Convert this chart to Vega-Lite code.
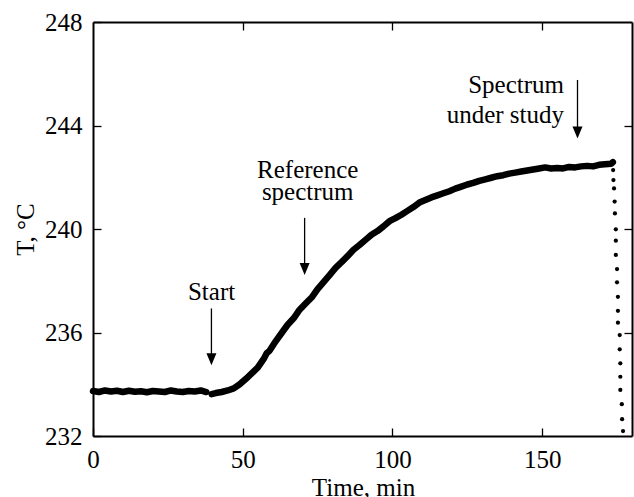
{
  "$schema": "https://vega.github.io/schema/vega-lite/v6.json",
  "width": 539,
  "height": 414,
  "autosize": {"type": "none"},
  "padding": {"left": 93, "top": 22, "right": 2, "bottom": 61},
  "background": "white",
  "config": {
    "view": {"stroke": null},
    "font": "Liberation Serif",
    "axis": {
      "grid": false,
      "domainColor": "black",
      "domainWidth": 2,
      "tickColor": "black",
      "tickWidth": 1.3,
      "tickSize": -8,
      "labelFont": "Liberation Serif",
      "labelFontSize": 25,
      "labelColor": "black",
      "labelFlush": false,
      "labelOverlap": false,
      "titleFont": "Liberation Serif",
      "titleFontSize": 25,
      "titleFontWeight": "normal",
      "titleColor": "black"
    }
  },
  "datasets": {
    "curve": [
      {"t": 0, "T": 233.74, "s": "a"}, {"t": 2, "T": 233.70, "s": "a"}, {"t": 4, "T": 233.76, "s": "a"},
      {"t": 6, "T": 233.72, "s": "a"}, {"t": 8, "T": 233.75, "s": "a"}, {"t": 10, "T": 233.70, "s": "a"},
      {"t": 12, "T": 233.75, "s": "a"}, {"t": 14, "T": 233.71, "s": "a"}, {"t": 16, "T": 233.73, "s": "a"},
      {"t": 18, "T": 233.69, "s": "a"}, {"t": 20, "T": 233.74, "s": "a"}, {"t": 22, "T": 233.72, "s": "a"},
      {"t": 24, "T": 233.70, "s": "a"}, {"t": 26, "T": 233.76, "s": "a"}, {"t": 28, "T": 233.72, "s": "a"},
      {"t": 30, "T": 233.70, "s": "a"}, {"t": 32, "T": 233.74, "s": "a"}, {"t": 34, "T": 233.72, "s": "a"},
      {"t": 36, "T": 233.76, "s": "a"}, {"t": 37.8, "T": 233.70, "s": "a"},
      {"t": 39.6, "T": 233.62, "s": "b"}, {"t": 41, "T": 233.66, "s": "b"}, {"t": 43, "T": 233.70, "s": "b"},
      {"t": 45, "T": 233.76, "s": "b"}, {"t": 47, "T": 233.84, "s": "b"}, {"t": 49, "T": 234.00, "s": "b"},
      {"t": 51, "T": 234.20, "s": "b"}, {"t": 53, "T": 234.42, "s": "b"}, {"t": 55, "T": 234.64, "s": "b"},
      {"t": 57, "T": 234.98, "s": "b"}, {"t": 58, "T": 235.20, "s": "b"}, {"t": 59, "T": 235.30, "s": "b"},
      {"t": 61, "T": 235.66, "s": "b"},
      {"t": 63, "T": 235.98, "s": "b"}, {"t": 65, "T": 236.30, "s": "b"}, {"t": 67, "T": 236.55, "s": "b"},
      {"t": 69, "T": 236.88, "s": "b"}, {"t": 71, "T": 237.12, "s": "b"}, {"t": 73, "T": 237.35, "s": "b"},
      {"t": 75, "T": 237.68, "s": "b"}, {"t": 77, "T": 237.95, "s": "b"}, {"t": 79, "T": 238.22, "s": "b"},
      {"t": 81, "T": 238.50, "s": "b"}, {"t": 83, "T": 238.72, "s": "b"}, {"t": 85, "T": 238.95, "s": "b"},
      {"t": 87, "T": 239.20, "s": "b"}, {"t": 89, "T": 239.38, "s": "b"}, {"t": 91, "T": 239.58, "s": "b"},
      {"t": 93, "T": 239.78, "s": "b"}, {"t": 95, "T": 239.92, "s": "b"}, {"t": 97, "T": 240.10, "s": "b"},
      {"t": 99, "T": 240.30, "s": "b"}, {"t": 101, "T": 240.42, "s": "b"}, {"t": 103, "T": 240.55, "s": "b"},
      {"t": 105, "T": 240.70, "s": "b"}, {"t": 107, "T": 240.85, "s": "b"}, {"t": 109, "T": 241.02, "s": "b"},
      {"t": 111, "T": 241.12, "s": "b"}, {"t": 113, "T": 241.22, "s": "b"}, {"t": 115, "T": 241.30, "s": "b"},
      {"t": 117, "T": 241.38, "s": "b"}, {"t": 119, "T": 241.46, "s": "b"}, {"t": 121, "T": 241.56, "s": "b"},
      {"t": 123, "T": 241.64, "s": "b"}, {"t": 125, "T": 241.72, "s": "b"}, {"t": 127, "T": 241.78, "s": "b"},
      {"t": 129, "T": 241.86, "s": "b"}, {"t": 131, "T": 241.92, "s": "b"}, {"t": 133, "T": 241.98, "s": "b"},
      {"t": 135, "T": 242.04, "s": "b"}, {"t": 137, "T": 242.08, "s": "b"}, {"t": 139, "T": 242.14, "s": "b"},
      {"t": 141, "T": 242.18, "s": "b"}, {"t": 143, "T": 242.22, "s": "b"}, {"t": 145, "T": 242.26, "s": "b"},
      {"t": 147, "T": 242.30, "s": "b"}, {"t": 149, "T": 242.34, "s": "b"}, {"t": 151, "T": 242.38, "s": "b"},
      {"t": 153, "T": 242.34, "s": "b"}, {"t": 155, "T": 242.36, "s": "b"}, {"t": 157, "T": 242.34, "s": "b"},
      {"t": 159, "T": 242.40, "s": "b"}, {"t": 161, "T": 242.38, "s": "b"}, {"t": 163, "T": 242.42, "s": "b"},
      {"t": 165, "T": 242.44, "s": "b"}, {"t": 167, "T": 242.42, "s": "b"}, {"t": 169, "T": 242.48, "s": "b"},
      {"t": 171, "T": 242.50, "s": "b"}, {"t": 173, "T": 242.52, "s": "b"}, {"t": 173.6, "T": 242.58, "s": "b"}
    ],
    "drop": [
      {"t": 173.7, "T": 242.28}, {"t": 173.8, "T": 241.89}, {"t": 174.0, "T": 241.57},
      {"t": 174.2, "T": 241.06}, {"t": 174.3, "T": 240.60}, {"t": 174.6, "T": 239.99},
      {"t": 174.6, "T": 239.55}, {"t": 174.6, "T": 239.00}, {"t": 175.0, "T": 238.45},
      {"t": 175.0, "T": 237.94}, {"t": 175.3, "T": 237.38}, {"t": 175.3, "T": 236.84},
      {"t": 175.3, "T": 236.38}, {"t": 175.9, "T": 235.90}, {"t": 175.9, "T": 235.35},
      {"t": 176.1, "T": 234.81}, {"t": 176.1, "T": 234.29}, {"t": 176.1, "T": 233.78},
      {"t": 176.6, "T": 233.23}, {"t": 176.7, "T": 232.65}, {"t": 177.0, "T": 232.19}
    ],
    "labc": [
      {"t": 39.6, "T": 237.26, "text": "Start"},
      {"t": 71.7, "T": 241.96, "text": "Reference"},
      {"t": 71.7, "T": 241.12, "text": "spectrum"}
    ],
    "labr": [
      {"t": 157.3, "T": 245.24, "text": "Spectrum"},
      {"t": 157.3, "T": 244.11, "text": "under study"}
    ],
    "arrows": [
      {"t": 39.55, "top": 236.93, "head": 234.97},
      {"t": 70.67, "top": 240.43, "head": 238.45},
      {"t": 161.8, "top": 245.76, "head": 243.73}
    ]
  },
  "resolve": {"axis": {"x": "independent", "y": "independent"}},
  "layer": [
    {
      "data": {"name": "curve"},
      "mark": {"type": "line", "color": "black", "strokeWidth": 6.5, "strokeCap": "round", "strokeJoin": "round"},
      "encoding": {
        "x": {"field": "t", "type": "quantitative",
              "scale": {"domain": [0, 180], "nice": false, "zero": false},
              "axis": {"orient": "bottom", "values": [0, 50, 100, 150], "labelPadding": 39,
                       "labelBaseline": "alphabetic", "title": "Time, min",
                       "titleX": 270, "titleY": 59, "titleBaseline": "alphabetic", "titleAlign": "center"}},
        "y": {"field": "T", "type": "quantitative",
              "scale": {"domain": [232, 248], "nice": false, "zero": false},
              "axis": {"orient": "left", "values": [232, 236, 240, 244, 248], "labelPadding": 19,
                       "labelBaseline": "middle", "title": "T, °C", "titleAngle": -90,
                       "titleX": -60, "titleY": 207, "titleAlign": "center", "titleBaseline": "alphabetic"}},
        "detail": {"field": "s"}
      }
    },
    {
      "data": {"name": "drop"},
      "mark": {"type": "point", "shape": "circle", "filled": true, "color": "black", "size": 18, "opacity": 1},
      "encoding": {
        "x": {"field": "t", "type": "quantitative",
              "axis": {"orient": "top", "values": [50, 100, 150], "labels": false, "title": null}},
        "y": {"field": "T", "type": "quantitative",
              "axis": {"orient": "right", "values": [236, 240, 244], "labels": false, "title": null}}
      }
    },
    {
      "data": {"name": "labc"},
      "mark": {"type": "text", "align": "center", "baseline": "alphabetic", "fontSize": 25, "font": "Liberation Serif", "color": "black"},
      "encoding": {
        "x": {"field": "t", "type": "quantitative", "axis": null},
        "y": {"field": "T", "type": "quantitative", "axis": null},
        "text": {"field": "text"}
      }
    },
    {
      "data": {"name": "labr"},
      "mark": {"type": "text", "align": "right", "baseline": "alphabetic", "fontSize": 25, "font": "Liberation Serif", "color": "black"},
      "encoding": {
        "x": {"field": "t", "type": "quantitative", "axis": null},
        "y": {"field": "T", "type": "quantitative", "axis": null},
        "text": {"field": "text"}
      }
    },
    {
      "data": {"name": "arrows"},
      "mark": {"type": "rule", "color": "black", "strokeWidth": 1.3},
      "encoding": {
        "x": {"field": "t", "type": "quantitative", "axis": null},
        "y": {"field": "top", "type": "quantitative", "axis": null},
        "y2": {"field": "head"}
      }
    },
    {
      "data": {"name": "arrows"},
      "mark": {"type": "point", "shape": "M-0.833,-1L0.833,-1L0,1Z", "filled": true, "color": "black", "size": 144, "opacity": 1},
      "encoding": {
        "x": {"field": "t", "type": "quantitative", "axis": null},
        "y": {"field": "head", "type": "quantitative", "axis": null}
      }
    }
  ]
}
